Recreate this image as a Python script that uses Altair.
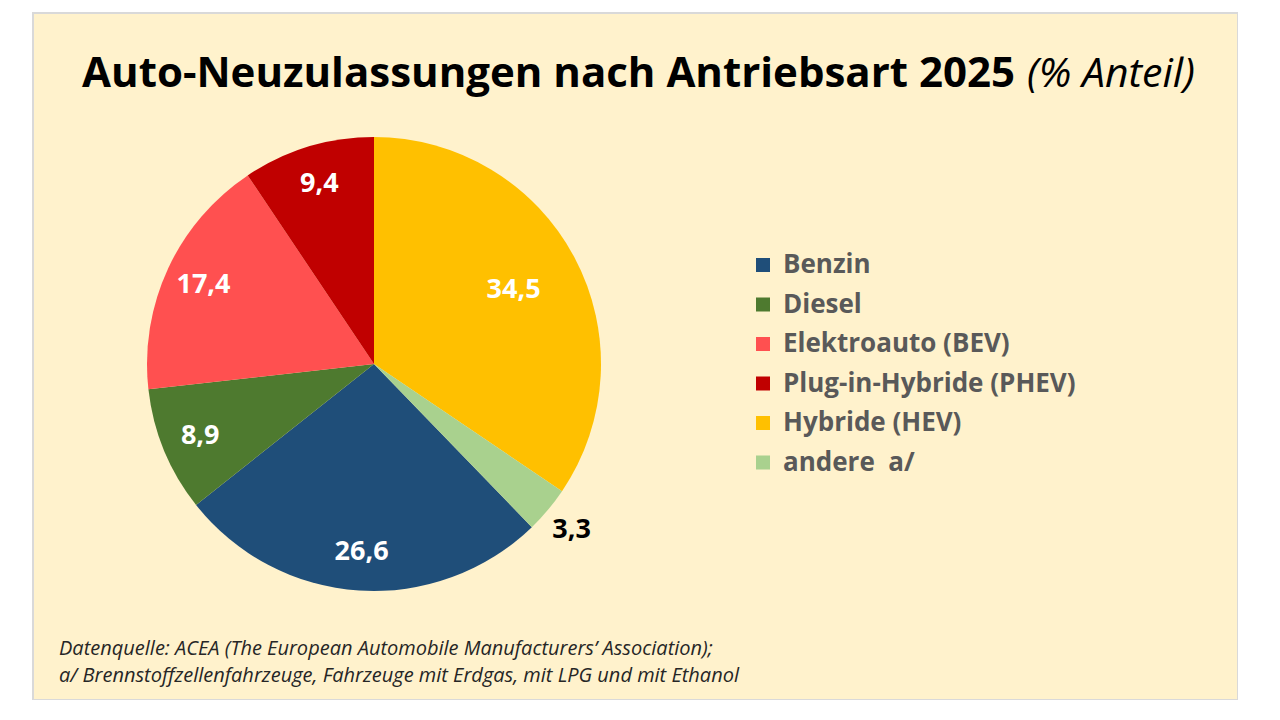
import altair as alt
import pandas as pd

# data
categories = ["Benzin", "Diesel", "Elektroauto (BEV)", "Plug-in-Hybride (PHEV)", "Hybride (HEV)", "andere\u00a0 a/"]
values = [26.6, 8.9, 17.4, 9.4, 34.5, 3.3]
pie_order = [3, 4, 5, 6, 1, 2]  # clockwise from 12 o'clock
colors = ["#1F4E79", "#4E7A2F", "#FF5050", "#C00000", "#FFC000", "#A9D18E"]
title_main = "Auto-Neuzulassungen nach Antriebsart 2025"
title_unit = "(% Anteil)"
footer = [
    "Datenquelle: ACEA (The European Automobile Manufacturers\u2019 Association);",
    "a/ Brennstoffzellenfahrzeuge, Fahrzeuge mit Erdgas, mit LPG und mit Ethanol",
]

labels = [f"{v:.1f}".replace(".", ",") for v in values]
df = pd.DataFrame({"cat": categories, "value": values, "ord": pie_order, "label": labels})

FONT = "Open Sans"
CX, CY, R = 341, 351, 227
HEV = "Hybride (HEV)"
OTHER = categories[5]

base = alt.Chart(df).encode(
    theta=alt.Theta("value:Q", stack=True),
    order=alt.Order("ord:Q"),
)

pie = base.mark_arc(outerRadius=R, stroke=None).encode(
    x=alt.value(CX), y=alt.value(CY),
    color=alt.Color(
        "cat:N",
        scale=alt.Scale(domain=categories, range=colors),
        sort=categories,
        legend=alt.Legend(
            title=None, orient="none", legendX=717, legendY=239,
            symbolType="square", symbolSize=196, symbolStrokeWidth=0,
            labelFont=FONT, labelFontSize=26, labelFontWeight="bold",
            labelColor="#595959", rowPadding=13.5, labelOffset=7,
            padding=0, labelLimit=500,
        ),
    ),
)

lab_in = base.transform_calculate(
    t=f"(datum.cat == '{HEV}' || datum.cat == '{OTHER}') ? '' : datum.label"
).mark_text(radius=188, font=FONT, fontSize=27, fontWeight="bold", color="white").encode(
    x=alt.value(CX), y=alt.value(CY), text="t:N"
)
lab_hev = base.transform_calculate(
    t=f"datum.cat == '{HEV}' ? datum.label : ''"
).mark_text(radius=158, font=FONT, fontSize=27, fontWeight="bold", color="white").encode(
    x=alt.value(CX), y=alt.value(CY), text="t:N"
)
lab_out = base.transform_calculate(
    t=f"datum.cat == '{OTHER}' ? datum.label : ''"
).mark_text(radius=258, font=FONT, fontSize=27, fontWeight="bold", color="black").encode(
    x=alt.value(CX), y=alt.value(CY), text="t:N"
)

tdf = pd.DataFrame({"a": [title_main], "b": [title_unit]})
t1 = alt.Chart(tdf).mark_text(
    font=FONT, fontSize=42, fontWeight="bold", color="black", align="right", baseline="alphabetic"
).encode(x=alt.value(982), y=alt.value(74), text="a:N")
t2 = alt.Chart(tdf).mark_text(
    font=FONT, fontSize=41, fontStyle="italic", color="black", align="left", baseline="alphabetic"
).encode(x=alt.value(994), y=alt.value(74), text="b:N")

fdf1 = pd.DataFrame({"line": [footer[0]]})
fdf2 = pd.DataFrame({"line": [footer[1]]})
fstyle = dict(font=FONT, fontSize=20, fontStyle="italic", color="#262626", align="left", baseline="middle")
foot1 = alt.Chart(fdf1).mark_text(**fstyle).encode(x=alt.value(26), y=alt.value(636), text="line:N")
foot2 = alt.Chart(fdf2).mark_text(**fstyle).encode(x=alt.value(26), y=alt.value(663), text="line:N")

chart = alt.layer(pie, lab_in, lab_hev, lab_out, t1, t2, foot1, foot2).properties(
    width=1205, height=687,
    padding={"left": 25, "top": 5, "right": 0, "bottom": 0},
    autosize=alt.AutoSizeParams(type="none"),
    background="white",
).configure_view(fill="#FFF2CC", stroke="#D9D9D9", strokeWidth=2)

chart.save("out.html", embed_options={"renderer": "svg", "actions": False})
